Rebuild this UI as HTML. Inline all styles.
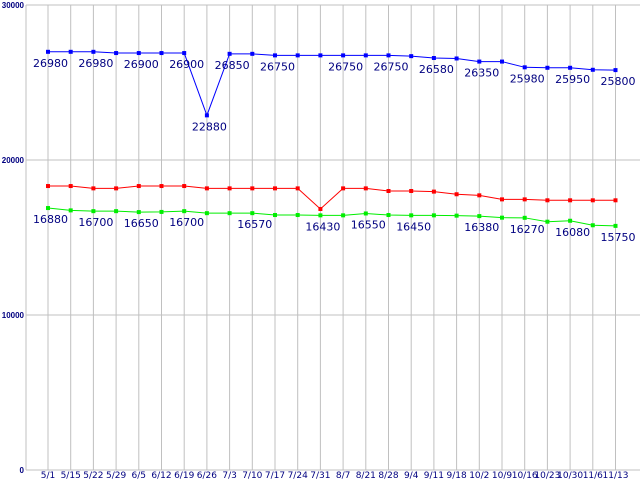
<!DOCTYPE html>
<html><head><meta charset="utf-8"><style>
html,body{margin:0;padding:0;background:#fff;width:640px;height:480px;overflow:hidden}
svg{display:block}
text{font-family:"DejaVu Sans","Liberation Sans",sans-serif}
text.yt{font-family:"Liberation Sans",sans-serif}
</style></head><body>
<svg id="chart" width="640" height="480"></svg>
<script>
const categories=["5/1","5/15","5/22","5/29","6/5","6/12","6/19","6/26","7/3","7/10","7/17","7/24","7/31","8/7","8/21","8/28","9/4","9/11","9/18","10/2","10/9","10/16","10/23","10/30","11/6","11/13"];
const blueValues=[26980,26980,26980,26900,26900,26900,26900,22880,26850,26850,26750,26750,26750,26750,26750,26750,26700,26580,26550,26350,26350,25980,25950,25950,25820,25800];
const blueLabels=[26980,null,26980,null,26900,null,26900,22880,26850,null,26750,null,null,26750,null,26750,null,26580,null,26350,null,25980,null,25950,null,25800];
const redValues=[18320,18320,18170,18170,18320,18320,18320,18170,18170,18170,18170,18170,16840,18170,18170,18000,18000,17960,17790,17720,17460,17460,17400,17400,17400,17400];
const greenValues=[16900,16750,16700,16700,16640,16650,16700,16570,16570,16570,16450,16450,16430,16430,16550,16450,16430,16430,16410,16380,16280,16270,16020,16080,15790,15750];
const greenLabels=[16880,null,16700,null,16650,null,16700,null,null,16570,null,null,16430,null,16550,null,16450,null,null,16380,null,16270,null,16080,null,15750];
const yTicks=[0,10000,20000,30000];

const NS="http://www.w3.org/2000/svg";
const svg=document.getElementById('chart');
const X0=48,DX=22.7,Y0=470,YTOP=5,YMAX=30000;
function xs(i){return X0+DX*i;}
function ys(v){return Y0-(Y0-YTOP)*v/YMAX;}
function el(tag,attrs,parent){const e=document.createElementNS(NS,tag);for(const k in attrs)e.setAttribute(k,attrs[k]);(parent||svg).appendChild(e);return e;}

const grid=el('g',{});


yTicks.forEach(t=>{
  if(t>0){const l=el('line',{x1:26,x2:640,y1:ys(t),y2:ys(t),stroke:'#c0c0c0','stroke-width':1},grid);
  
  }
  const tx=el('text',{x:24,y:ys(t)+3,'text-anchor':'end','font-size':8,'font-weight':'bold',fill:'#000080','class':'yt'});
  tx.textContent=t;
  
  
});
el('line',{x1:26,x2:26,y1:YTOP,y2:Y0,stroke:'#c0c0c0','stroke-width':1},grid);
el('line',{x1:26,x2:640,y1:Y0,y2:Y0,stroke:'#c0c0c0','stroke-width':1},grid);
categories.forEach((c,i)=>{
  const l=el('line',{x1:xs(i),x2:xs(i),y1:YTOP,y2:Y0,stroke:'#c0c0c0','stroke-width':1},grid);
  
  
  const tx=el('text',{x:xs(i),y:478,'text-anchor':'middle','font-size':9,fill:'#000080'});
  tx.textContent=c;
  
  
});

function series(vals,color,name,labels){
  const g=el('g',{});
  
  
  const pts=vals.map((v,i)=>xs(i)+','+ys(v)).join(' ');
  const pl=el('polyline',{points:pts,fill:'none',stroke:color,'stroke-width':1},g);
  
  
  vals.forEach((v,i)=>{
    const r=el('rect',{x:xs(i)-2,y:ys(v)-2,width:4,height:4,fill:color},g);
    
    
  });
  if(labels)labels.forEach((lv,i)=>{
    if(lv===null)return;
    const tx=el('text',{x:xs(i)-15,y:ys(vals[i])+15,'font-size':11,fill:'#000080'},g);
    tx.textContent=lv;
    
    
  });
}
series(redValues,'#ff0000','red-series',null);
series(greenValues,'#00ee00','green-series',greenLabels);
series(blueValues,'#0000ff','blue-series',blueLabels);
</script>
</body></html>
